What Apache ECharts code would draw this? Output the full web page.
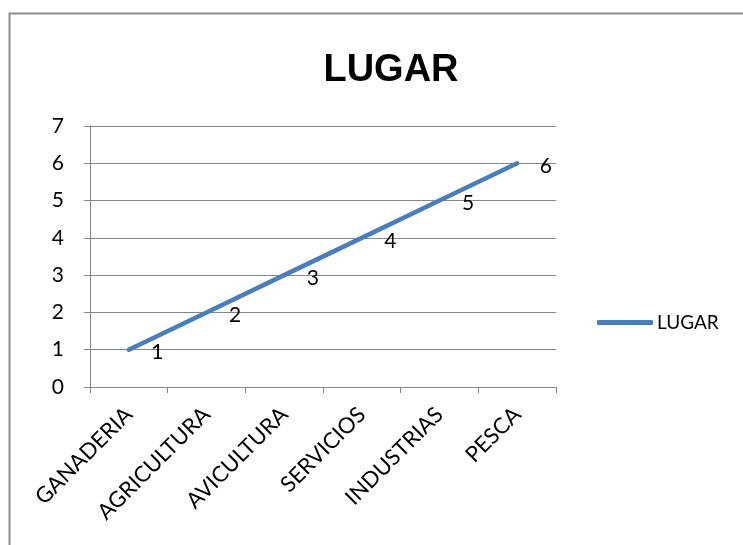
<!DOCTYPE html>
<html>
<head>
<meta charset="utf-8">
<style>html,body{margin:0;padding:0;background:#fff}#c{width:743px;height:545px}</style>
<script src="https://cdn.jsdelivr.net/npm/echarts@6/dist/echarts.min.js"></script>
</head>
<body>
<div id="c"></div>
<script>
const categories = ["GANADERIA","AGRICULTURA","AVICULTURA","SERVICIOS","INDUSTRIAS","PESCA"];
const lugarValues = [1,2,3,4,5,6];
const seriesName = "LUGAR";
const chart = echarts.init(document.getElementById('c'));
const font = 'Lato, "Noto Sans", sans-serif';
chart.setOption({
  animation: false,
  backgroundColor: '#fff',
  graphic: [{type:'rect', shape:{x:9.5,y:13.5,width:800,height:600}, style:{fill:'none',stroke:'#8c8c8c',lineWidth:2}, silent:true}],
  title: {text: seriesName, left: 386, textAlign: 'center', top: 47, textStyle:{fontFamily:'"Liberation Sans", Arial, sans-serif', fontWeight:'bold', fontSize:38, color:'#000'}},
  legend: {left: 597, top: 313, padding: 0, icon: 'roundRect', itemWidth: 56, itemHeight: 5, itemGap: 5,
    textStyle:{fontFamily:font, fontSize:19, color:'#000', padding:[0,0,0,-1]}, data:[seriesName]},
  grid: {left: 90, right: 187, top: 126, bottom: 158},
  xAxis: {type:'category', data: categories, boundaryGap: true,
    axisLine:{lineStyle:{color:'#868686', width:1}},
    axisTick:{show:true, length:6, lineStyle:{color:'#868686'}},
    axisLabel:{rotate:45, margin:24, fontFamily:font, fontSize:22, color:'#000', interval:0}},
  yAxis: {type:'value', min:0, max:7, interval:1,
    axisLine:{show:true, lineStyle:{color:'#868686', width:1}},
    axisTick:{show:true, length:6, lineStyle:{color:'#868686'}},
    splitLine:{lineStyle:{color:'#868686', width:1}},
    axisLabel:{margin:26, fontFamily:font, fontSize:21, color:'#000'}},
  series: [{name: seriesName, type:'line', data: lugarValues, symbol:'circle', symbolSize:1, showSymbol:true,
    lineStyle:{color:'#4a7ebb', width:4.5, cap:'round'}, itemStyle:{color:'#4a7ebb', borderWidth:0},
    label:{show:true, position:'right', distance:22, offset:[0,3], fontFamily:font, fontSize:21, color:'#000'}}]
});
</script>
</body>
</html>
